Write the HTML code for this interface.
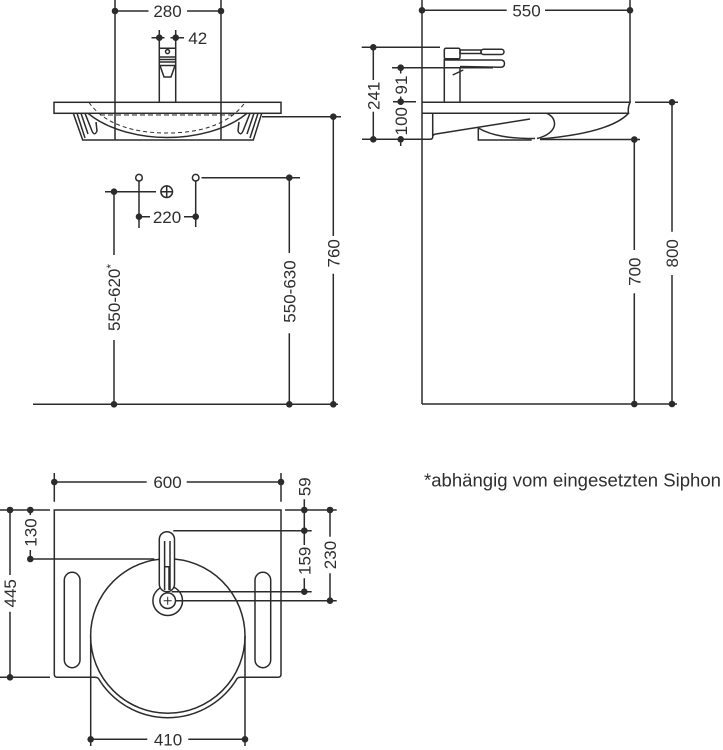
<!DOCTYPE html>
<html><head><meta charset="utf-8"><style>
html,body{margin:0;padding:0;background:#fff;}
svg{display:block}
text{font-family:"Liberation Sans",Arial,sans-serif;font-size:17px;fill:#2e2e2e}
</style></head><body>
<svg width="723" height="750" viewBox="0 0 723 750" xmlns="http://www.w3.org/2000/svg">
<g stroke="#2b2b2b" stroke-width="1.5" fill="none">
<!-- ===== TOP LEFT VIEW ===== -->
<path d="M115,0V140 M221,0V140"/>
<path d="M115,11H148.5 M187,11H221"/>
<path d="M159.3,30V102.3 M175.7,30V102.3"/>
<path d="M151.5,37.7H164.5 M170.5,37.7H184"/>
<!-- faucet head -->
<path d="M159.3,48.3H175.7 M159.3,57H175.7 M159.3,59.5H175.7 M159.3,62H175.7 M159.3,65.5H175.7 M160,65.5L164,77H171L175,65.5"/>
<circle cx="167.5" cy="51.6" r="2"/>
<!-- deck -->
<rect x="54" y="102.3" width="227" height="11"/>
<!-- bowl -->
<path d="M73.3,113.3L82.7,140H253.3L261.7,113.3"/>
<path d="M77,113.3L85,138 M81,113.3L88,134 M85,113.3L92,131Q94.5,136.5 97,131L96,122"/>
<path d="M258,113.3L250,138 M254,113.3L247,134 M250,113.3L243,131Q240.5,136.5 238,131L239,122"/>
<path d="M88,113.3C108,130 140,137.5 167,137.5C195,137.5 227,130 247,113.3"/>
<path d="M89,102.5C105,125 135,133 167,133C199,133 229,125 245,102.5" stroke-dasharray="4,3" stroke-width="1"/>
<path d="M100,115H235" stroke-dasharray="5,3" stroke-width="1"/>
<!-- 760 -->
<path d="M262,116.7H341 M333.3,116.7V236 M333.3,273.7V404.3"/>
<!-- connection points -->
<circle cx="139" cy="177.7" r="3.3"/>
<circle cx="195.7" cy="177.7" r="3.3"/>
<circle cx="166.7" cy="191.7" r="5.8"/>
<path d="M160.9,191.7H172.5 M166.7,185.9V197.5"/>
<path d="M105,191.7H156"/>
<path d="M201.5,177.7H300"/>
<path d="M139,181V228 M195.7,181V227"/>
<path d="M139,216.7H150 M184,216.7H195.7"/>
<path d="M114,191.7V255 M114,340V404.3"/>
<path d="M289.3,177.7V253 M289.3,333.3V404.3"/>
<path d="M33,404.3H338"/>

<!-- ===== TOP RIGHT VIEW ===== -->
<path d="M422,0V404 M630,0V103"/>
<path d="M422,10.3H506.7 M545,10.3H630"/>
<path d="M422,102.3H630Q627.5,108 628.5,113.3H422"/>
<path d="M432.7,113.3V136Q433,139.3 430,139.3H422"/>
<path d="M432.7,136Q433.5,134.3 436,134L530,119"/>
<path d="M478.3,128V140H531.7"/>
<path d="M478.3,128C492,136 510,138.5 535,138.5"/>
<path d="M546.7,113.3C558,118 559,133 537,138.5"/>
<path d="M628.5,113.3Q610,133 540,139"/>
<path d="M540,139.5H640"/>
<path d="M634.3,139.5V250 M634.3,293.3V404"/>
<path d="M635,102.3H678 M672,102.3V231.7 M672,275V404"/>
<path d="M422,404H677"/>
<!-- faucet side -->
<rect x="444.3" y="48.3" width="15.7" height="10.5" rx="1.5"/>
<rect x="460" y="50" width="21" height="3.5"/>
<rect x="481" y="49.3" width="23" height="5.2" rx="2.6"/>
<path d="M444.3,58.8V102.3 M460,67V102.3"/>
<path d="M444.3,60H500.5Q504.5,60 504.5,63.5Q504.5,67.3 500.5,67.3L460,66.5"/>
<path d="M452.7,75L463.3,70"/>
<!-- left dims -->
<path d="M361.7,47.3H440 M373.3,47.3V80 M373.3,111.7V139.3 M362,139.3H422"/>
<path d="M392,67.7H493 M400.7,67.7V73.5 M400.7,96.5V105 M400.7,137V146 M393,101.7H416"/>

<!-- ===== BOTTOM VIEW ===== -->
<path d="M54.3,482H146.7 M186.7,482H281 M54.3,473V501.7 M281,473V501.7"/>
<path d="M54.3,510H281V674.3Q281,677.3 278,677.3H240.5Q238.5,677.3 237.3,678.3A81,81 0 0 1 98.3,678.3Q97,677.3 95,677.3H57.3Q54.3,677.3 54.3,674.3Z"/>
<circle cx="167.8" cy="636" r="77.2"/>
<rect x="64.3" y="572.3" width="15.7" height="95.4" rx="7.85"/>
<rect x="255" y="572.3" width="15.7" height="95.4" rx="7.85"/>
<circle cx="167.7" cy="600.7" r="14.8" fill="#fff"/>
<rect x="159.3" y="531.7" width="15.2" height="60" rx="7.6" fill="#fff"/>
<path d="M164.6,541V590 M170,541V590 M165,566.7H169V590"/>
<circle cx="167.7" cy="600.7" r="7.8" fill="#fff"/>
<path d="M163.7,600.7H171.7 M167.7,596.7V604.7" stroke-width="1"/>
<!-- left dims -->
<path d="M0,510H50 M0,677.3H50 M10,510V575 M10,611.7V677.3"/>
<path d="M30.3,510V515 M30.3,550V559 M30.3,559H154.3"/>
<!-- right dims -->
<path d="M285,510H336.7 M304.3,499.3V545 M304.3,578.3V591.7 M173.3,530.7H311.7 M171.7,591.7H311.7"/>
<path d="M330,510V536.7 M330,573.3V600.7 M176,600.7H336.7"/>
<!-- 410 -->
<path d="M90.7,636V746 M245,636V746 M90.7,739.3H147.3 M188.3,739.3H245"/>
</g>
<g fill="#2b2b2b">
<circle cx="115" cy="11" r="3.3"/><circle cx="221" cy="11" r="3.3"/>
<circle cx="159.3" cy="37.7" r="3.3"/><circle cx="175.7" cy="37.7" r="3.3"/>
<circle cx="333.3" cy="116.7" r="3.3"/><circle cx="114" cy="191.7" r="3.3"/>
<circle cx="289.3" cy="177.7" r="3.3"/><circle cx="139" cy="216.7" r="3.3"/>
<circle cx="195.7" cy="216.7" r="3.3"/><circle cx="114" cy="404.3" r="3.3"/>
<circle cx="289.3" cy="404.3" r="3.3"/><circle cx="333.3" cy="404.3" r="3.3"/>
<circle cx="422" cy="10.3" r="3.3"/><circle cx="630" cy="10.3" r="3.3"/>
<circle cx="373.3" cy="47.3" r="3.3"/><circle cx="373.3" cy="139.3" r="3.3"/>
<circle cx="400.7" cy="67.7" r="3.3"/><circle cx="400.7" cy="101.7" r="3.3"/>
<circle cx="400.7" cy="139.3" r="3.3"/><circle cx="672" cy="102.3" r="3.3"/>
<circle cx="634.3" cy="139.5" r="3.3"/><circle cx="634.3" cy="404" r="3.3"/>
<circle cx="672" cy="404" r="3.3"/>
<circle cx="54.3" cy="482" r="3.3"/><circle cx="281" cy="482" r="3.3"/>
<circle cx="10" cy="510" r="3.3"/><circle cx="30.3" cy="510" r="3.3"/>
<circle cx="10" cy="677.3" r="3.3"/><circle cx="30.3" cy="559" r="3.3"/>
<circle cx="304.3" cy="510" r="3.3"/><circle cx="304.3" cy="530.7" r="3.3"/>
<circle cx="304.3" cy="591.7" r="3.3"/><circle cx="330" cy="510" r="3.3"/>
<circle cx="330" cy="600.7" r="3.3"/><circle cx="90.7" cy="739.3" r="3.3"/>
<circle cx="245" cy="739.3" r="3.3"/>
</g>
<!-- horizontal labels -->
<text x="167.5" y="17.1" text-anchor="middle">280</text>
<text x="188.3" y="43.8">42</text>
<text x="167" y="222.8" text-anchor="middle">220</text>
<text x="526.5" y="16.4" text-anchor="middle">550</text>
<text x="167.5" y="488.1" text-anchor="middle">600</text>
<text x="168" y="745.4" text-anchor="middle">410</text>
<text x="424" y="486.5" style="font-size:18px" textLength="297" lengthAdjust="spacingAndGlyphs">*abhängig vom eingesetzten Siphon</text>
<!-- vertical labels -->
<text transform="translate(114,297.5) rotate(-90)" x="0" y="6.1" text-anchor="middle">550-620<tspan style="font-size:12px" dy="-5">*</tspan></text>
<text transform="translate(289.3,291.5) rotate(-90)" x="0" y="6.1" text-anchor="middle">550-630</text>
<text transform="translate(333.3,253.3) rotate(-90)" x="0" y="6.1" text-anchor="middle">760</text>
<text transform="translate(373.3,95.8) rotate(-90)" x="0" y="6.1" text-anchor="middle">241</text>
<text transform="translate(400.7,85) rotate(-90)" x="0" y="6.1" text-anchor="middle">91</text>
<text transform="translate(400.7,121.2) rotate(-90)" x="0" y="6.1" text-anchor="middle">100</text>
<text transform="translate(634.3,271.7) rotate(-90)" x="0" y="6.1" text-anchor="middle">700</text>
<text transform="translate(672,253.3) rotate(-90)" x="0" y="6.1" text-anchor="middle">800</text>
<text transform="translate(304.3,486.7) rotate(-90)" x="0" y="6.1" text-anchor="middle">59</text>
<text transform="translate(30.3,532.5) rotate(-90)" x="0" y="6.1" text-anchor="middle">130</text>
<text transform="translate(10,593.3) rotate(-90)" x="0" y="6.1" text-anchor="middle">445</text>
<text transform="translate(304.3,560.8) rotate(-90)" x="0" y="6.1" text-anchor="middle">159</text>
<text transform="translate(330,555) rotate(-90)" x="0" y="6.1" text-anchor="middle">230</text>
</svg>
</body></html>
